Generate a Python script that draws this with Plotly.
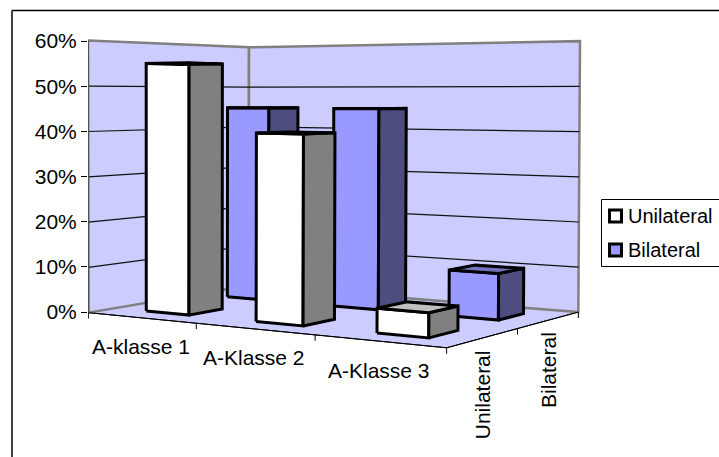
import numpy as np
import plotly.graph_objects as go

# Chart data
categories = ["A-klasse 1", "A-Klasse 2", "A-Klasse 3"]
series_names = ["Unilateral", "Bilateral"]
unilateral = [55, 40, 5]
bilateral = [45, 45, 10]
value_ticks = [0, 10, 20, 30, 40, 50, 60]

WIDTH, HEIGHT = 719, 457
LEFT = 88
FONT = "Liberation Sans, Arial, sans-serif"

# Pixel position of the zero line and of the 60 % level on the value axis
ZERO_ROW, TOP_ROW = 312.0, 41.0
UNITS_PER_ROW = 60.0 / (ZERO_ROW - TOP_ROW)


def row_to_value(row):
    return (ZERO_ROW - row) * UNITS_PER_ROW


# Camera for the 3D box: category (0..3), series depth (0..2), value (0..60)
box_corners = [
    ((0, 0, 0), (88, 312)), ((3, 0, 0), (447, 348)),
    ((0, 2, 0), (249, 286)), ((3, 2, 0), (578, 312)),
    ((0, 0, 60), (88, 41)), ((0, 2, 60), (249, 47)),
    ((3, 2, 60), (580, 41)),
]


def fit_camera(pairs):
    rows, rhs = [], []
    for (a, b, c), (u, v) in pairs:
        rows.append([a, b, c, 1, 0, 0, 0, 0, -u * a, -u * b, -u * c])
        rows.append([0, 0, 0, 0, a, b, c, 1, -v * a, -v * b, -v * c])
        rhs += [u, v]
    sol = np.linalg.lstsq(np.array(rows, float), np.array(rhs, float), rcond=None)[0]
    return np.append(sol, 1.0).reshape(3, 4)


CAMERA = fit_camera(box_corners)


def project(cat, depth, value):
    """Map a box position to axis coordinates (column, percent)."""
    u, v, w = CAMERA @ np.array([cat, depth, value, 1.0])
    return u / w, row_to_value(v / w)


fig = go.Figure()


def add_face(corners, fill, line_color="black", line_width=3):
    pts = [project(*c) for c in corners]
    pts.append(pts[0])
    fig.add_trace(go.Scatter(
        x=[p[0] for p in pts], y=[p[1] for p in pts], mode="lines", fill="toself",
        fillcolor=fill, line=dict(color=line_color, width=line_width),
        hoverinfo="skip", showlegend=False,
    ))


def add_line(corners, color, width):
    pts = [project(*c) for c in corners]
    fig.add_trace(go.Scatter(
        x=[p[0] for p in pts], y=[p[1] for p in pts], mode="lines",
        line=dict(color=color, width=width), hoverinfo="skip", showlegend=False,
    ))


WALL = "#CCCCFF"
EDGE = "#808080"

# Floor and walls
add_face([(0, 0, 0), (3, 0, 0), (3, 2, 0), (0, 2, 0)], WALL, "black", 1)
add_face([(0, 0, 0), (0, 2, 0), (0, 2, 60), (0, 0, 60)], WALL, EDGE, 2.5)
add_face([(0, 2, 0), (3, 2, 0), (3, 2, 60), (0, 2, 60)], WALL, EDGE, 2.5)

# Gridlines run along both walls
for tick in value_ticks[1:-1]:
    add_line([(0, 0, tick), (0, 2, tick), (3, 2, tick)], "#111111", 1.2)

# Front floor edges and their tick marks
add_line([(0, 0, 0), (3, 0, 0), (3, 2, 0)], "black", 1)
add_line([(0, 0, 0), (0, 0, 60)], "#505050", 2)
for i in range(len(categories) + 1):
    x0, y0 = project(i, 0, 0)
    fig.add_trace(go.Scatter(x=[x0, x0], y=[y0, y0 - 6 * UNITS_PER_ROW], mode="lines",
                             line=dict(color="black", width=1), hoverinfo="skip", showlegend=False))
for j in range(1, len(series_names) + 1):
    x0, y0 = project(3, j, 0)
    fig.add_trace(go.Scatter(x=[x0, x0], y=[y0, y0 - 6 * UNITS_PER_ROW], mode="lines",
                             line=dict(color="black", width=1), hoverinfo="skip", showlegend=False))

# Default column footprint: 40 % of each cell, centred
GAP = 0.3
colours = {
    "Unilateral": ("#FFFFFF", "#808080", "#C0C0C0"),
    "Bilateral": ("#9999FF", "#4D4D80", "#7373BF"),
}
series_values = {"Unilateral": unilateral, "Bilateral": bilateral}

# Back series first, so nearer columns paint over it
for j in (1, 0):
    name = series_names[j]
    front, side, top = colours[name]
    for i, value in enumerate(series_values[name]):
        a0, a1 = i + GAP, i + 1 - GAP
        b0, b1 = j + GAP, j + 1 - GAP
        add_face([(a0, b0, 0), (a1, b0, 0), (a1, b0, value), (a0, b0, value)], front)
        add_face([(a1, b0, 0), (a1, b1, 0), (a1, b1, value), (a1, b0, value)], side)
        add_face([(a0, b0, value), (a1, b0, value), (a1, b1, value), (a0, b1, value)], top)

annotations = []


def add_label(text, x, y, xshift=0, yshift=0, angle=0, size=21):
    annotations.append(dict(
        text=text, x=x, y=y, xref="x", yref="y", showarrow=False, textangle=angle,
        xshift=xshift, yshift=yshift, font=dict(family=FONT, size=size, color="black"),
    ))


# Axis labels hang below the floor edges
for i, label in enumerate(categories):
    x0, y0 = project(i + 0.5, 0, 0)
    add_label(label, x0, y0, yshift=-29)
for j, label in enumerate(series_names):
    x0, y0 = project(3, j + 0.5, 0)
    add_label(label, x0, y0, xshift=-1, yshift=-(45 + 12) if j == 0 else -(38 + 12), angle=-90)


# Chart-area border and legend, placed in page pixels; paper units span the plot area
def page_x(col):
    return (col - LEFT) / (WIDTH - LEFT)


def page_y(row):
    return 1 - row / HEIGHT


def page_rect(c0, r0, c1, r1, **style):
    return dict(type="rect", xref="paper", yref="paper", layer="above",
                x0=page_x(c0), x1=page_x(c1), y0=page_y(r0), y1=page_y(r1), **style)


def page_line(c0, r0, c1, r1, **style):
    return dict(type="line", xref="paper", yref="paper", layer="above",
                x0=page_x(c0), x1=page_x(c1), y0=page_y(r0), y1=page_y(r1), **style)


shapes = [
    page_line(12, 10.5, WIDTH + 2, 10.5, line=dict(color="black", width=1.5)),
    page_line(12, 10.5, 12, HEIGHT + 2, line=dict(color="black", width=1.5)),
    page_rect(601.5, 199.5, WIDTH + 4, 266.5, line=dict(color="black", width=1), fillcolor="white"),
]
for k, name in enumerate(series_names):
    row = 216 + k * 34
    shapes.append(page_rect(609.5, row - 6, 621.5, row + 6, fillcolor=colours[name][0],
                            line=dict(color="black", width=3)))
    annotations.append(dict(text=name, xref="paper", yref="paper", x=page_x(627), y=page_y(row),
                            xanchor="left", yanchor="middle", showarrow=False, xshift=-1,
                            font=dict(family=FONT, size=20, color="black")))

fig.update_layout(
    width=WIDTH, height=HEIGHT, autosize=False,
    margin=dict(l=LEFT, r=0, t=0, b=0),
    paper_bgcolor="white", plot_bgcolor="white",
    showlegend=False, shapes=shapes, annotations=annotations,
    xaxis=dict(range=[LEFT, WIDTH], visible=False, fixedrange=True),
    yaxis=dict(
        range=[row_to_value(HEIGHT), row_to_value(0)], tickvals=value_ticks,
        ticktext=[f"{t}%" for t in value_ticks], ticks="outside", ticklen=6,
        tickcolor="black", tickwidth=1, showgrid=False, zeroline=False, showline=False,
        tickfont=dict(family=FONT, size=21, color="black"), fixedrange=True,
    ),
)

fig.write_html("out.html", config=dict(displayModeBar=False))
